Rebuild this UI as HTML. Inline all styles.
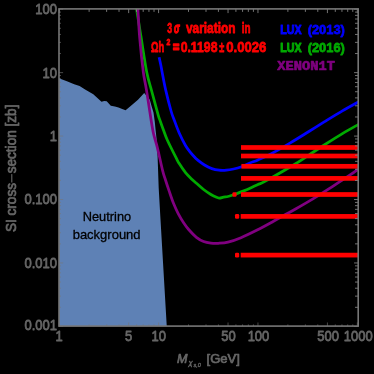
<!DOCTYPE html>
<html><head><meta charset="utf-8"><style>
html,body{margin:0;padding:0;background:#000;}
text{stroke-linejoin:round;}
.g text,text.g{stroke:#666;stroke-width:0.7px;}
svg{display:block;will-change:transform;font-family:"Liberation Sans",sans-serif;}
</style></head><body>
<svg width="374" height="374" viewBox="0 0 374 374">
<rect width="374" height="374" fill="#000"/>
<defs><clipPath id="cp"><rect x="59.00" y="8.90" width="299.20" height="317.20"/></clipPath></defs>
<g clip-path="url(#cp)">
<path d="M59.00,327.00L59.00,78.00L59.60,78.40L66.90,81.30L74.20,84.20L79.60,86.00L85.10,89.60L93.30,94.20L101.50,101.80L104.20,101.10L106.70,101.20L110.80,105.70L114.90,106.60L118.50,107.50L122.20,109.10L125.60,110.20L130.40,106.20L138.00,99.80L144.20,92.90L149.80,99.80L151.60,106.20L153.50,112.50L154.80,122.00L155.60,130.00L156.50,138.20L157.60,156.40L158.70,188.00L160.30,216.00L166.80,327.00Z" fill="#5e81b5"/>
<path d="M159.10,57.30C159.42,58.75 160.50,63.55 161.00,66.00C161.50,68.45 161.33,68.07 162.10,72.00C162.87,75.93 164.08,83.02 165.60,89.60C167.12,96.18 169.77,106.43 171.20,111.50C172.63,116.57 172.88,116.47 174.20,120.00C175.52,123.53 177.22,128.45 179.10,132.70C180.98,136.95 183.68,142.32 185.50,145.50C187.32,148.68 188.50,149.88 190.00,151.80C191.50,153.72 193.28,155.68 194.50,157.00C195.72,158.32 195.63,158.37 197.30,159.70C198.97,161.03 202.08,163.52 204.50,165.00C206.92,166.48 209.37,167.73 211.80,168.60C214.23,169.47 216.67,169.93 219.10,170.20C221.53,170.47 223.98,170.40 226.40,170.20C228.82,170.00 231.18,169.53 233.60,169.00C236.02,168.47 238.17,168.00 240.90,167.00C243.63,166.00 247.15,164.16 250.00,162.98C252.85,161.80 254.30,161.53 258.00,159.90C261.70,158.27 266.80,156.06 272.20,153.21C277.60,150.36 284.35,146.40 290.40,142.82C296.45,139.24 302.87,135.20 308.50,131.72C314.13,128.24 318.55,125.39 324.20,121.92C329.85,118.45 336.68,114.22 342.40,110.88C348.12,107.54 355.82,103.36 358.50,101.86" fill="none" stroke="#0000ff" stroke-width="2.75" stroke-linejoin="round"/>
<path d="M136.20,6.00C136.27,6.50 135.77,3.67 136.60,9.00C137.43,14.33 139.52,27.50 141.20,38.00C142.88,48.50 144.93,63.08 146.70,72.00C148.47,80.92 149.88,84.32 151.80,91.50C153.72,98.68 156.77,110.10 158.20,115.10C159.63,120.10 159.53,119.02 160.40,121.50C161.28,123.98 162.30,126.92 163.45,130.00C164.60,133.08 165.14,135.27 167.30,140.00C169.46,144.73 174.38,154.43 176.40,158.40C178.42,162.37 177.88,161.43 179.40,163.80C180.92,166.17 183.43,170.03 185.50,172.60C187.57,175.17 189.98,177.42 191.80,179.20C193.62,180.98 194.43,181.58 196.40,183.30C198.37,185.02 201.18,187.63 203.60,189.50C206.02,191.37 209.00,193.32 210.90,194.50C212.80,195.68 213.62,196.00 215.00,196.60C216.38,197.20 217.78,198.02 219.20,198.10C220.62,198.18 222.03,197.37 223.50,197.10C224.97,196.83 226.32,196.88 228.00,196.50C229.68,196.12 230.85,195.78 233.60,194.80C236.35,193.82 241.77,191.69 244.50,190.60C247.23,189.51 247.75,189.28 250.00,188.26C252.25,187.24 255.50,185.62 258.00,184.47C260.50,183.32 259.15,184.55 265.00,181.35C270.85,178.15 285.85,169.60 293.10,165.26C300.35,160.91 303.32,158.65 308.50,155.28C313.68,151.91 318.55,148.64 324.20,145.03C329.85,141.42 336.68,137.05 342.40,133.62C348.12,130.19 355.82,125.96 358.50,124.43" fill="none" stroke="#00aa00" stroke-width="2.75" stroke-linejoin="round"/>
<path d="M137.70,6.00C137.73,6.50 137.57,3.67 137.90,9.00C138.23,14.33 138.80,27.50 139.70,38.00C140.60,48.50 142.18,63.40 143.30,72.00C144.42,80.60 145.13,81.82 146.40,89.60C147.67,97.38 149.70,111.30 150.90,118.70C152.10,126.10 152.53,129.23 153.60,134.00C154.67,138.77 155.78,141.15 157.30,147.30C158.82,153.45 161.33,165.45 162.70,170.90C164.07,176.35 164.43,176.67 165.50,180.00C166.57,183.33 167.75,186.97 169.10,190.90C170.45,194.83 172.08,199.82 173.60,203.60C175.12,207.38 176.53,210.42 178.20,213.60C179.87,216.78 181.78,219.97 183.60,222.70C185.42,225.43 186.97,227.57 189.10,230.00C191.23,232.43 193.98,235.38 196.40,237.30C198.82,239.22 201.18,240.53 203.60,241.50C206.02,242.47 208.47,242.80 210.90,243.10C213.33,243.40 215.35,243.45 218.20,243.30C221.05,243.15 224.20,243.13 228.00,242.20C231.80,241.27 236.15,239.72 241.00,237.70C245.85,235.67 251.75,232.75 257.10,230.05C262.45,227.35 268.45,224.02 273.10,221.47C277.75,218.92 281.18,216.85 285.00,214.73C288.82,212.61 291.13,211.53 296.00,208.76C300.87,205.99 308.13,201.83 314.20,198.13C320.27,194.43 326.35,190.45 332.40,186.54C338.45,182.63 346.15,177.62 350.50,174.67C354.85,171.72 357.17,169.82 358.50,168.85" fill="none" stroke="#800080" stroke-width="2.75" stroke-linejoin="round"/>
<rect x="241.00" y="145.15" width="119.00" height="4.70" fill="#ff0000"/>
<rect x="241.00" y="153.65" width="119.00" height="4.70" fill="#ff0000"/>
<rect x="241.40" y="163.95" width="118.60" height="4.70" fill="#ff0000"/>
<rect x="241.00" y="176.05" width="119.00" height="4.70" fill="#ff0000"/>
<rect x="241.00" y="192.15" width="119.00" height="4.70" fill="#ff0000"/>
<rect x="232.40" y="192.15" width="4.2" height="4.70" rx="1.3" fill="#ff0000"/>
<rect x="240.70" y="214.05" width="119.30" height="4.70" fill="#ff0000"/>
<rect x="235.00" y="214.05" width="4.2" height="4.70" rx="1.3" fill="#ff0000"/>
<rect x="240.70" y="252.75" width="119.30" height="4.70" fill="#ff0000"/>
<rect x="235.00" y="252.75" width="4.2" height="4.70" rx="1.3" fill="#ff0000"/>
</g>
<path d="M59.20,8.90v4.20 M128.66,8.90v4.20 M158.58,8.90v4.20 M228.04,8.90v4.20 M257.96,8.90v4.20 M327.42,8.90v4.20 M357.34,8.90v4.20 M89.12,8.90v3.00 M106.62,8.90v3.00 M119.03,8.90v3.00 M136.53,8.90v3.00 M143.19,8.90v3.00 M148.95,8.90v3.00 M154.03,8.90v3.00 M188.50,8.90v3.00 M206.00,8.90v3.00 M218.41,8.90v3.00 M235.91,8.90v3.00 M242.57,8.90v3.00 M248.33,8.90v3.00 M253.41,8.90v3.00 M287.88,8.90v3.00 M305.38,8.90v3.00 M317.79,8.90v3.00 M335.29,8.90v3.00 M341.95,8.90v3.00 M347.71,8.90v3.00 M352.79,8.90v3.00 M358.20,326.40h-4.10 M358.20,262.96h-4.10 M358.20,199.52h-4.10 M358.20,136.08h-4.10 M358.20,72.64h-4.10 M358.20,9.20h-4.10 M358.20,307.30h-3.20 M358.20,296.13h-3.20 M358.20,288.21h-3.20 M358.20,282.06h-3.20 M358.20,277.03h-3.20 M358.20,272.79h-3.20 M358.20,269.11h-3.20 M358.20,265.86h-3.20 M358.20,243.86h-3.20 M358.20,232.69h-3.20 M358.20,224.77h-3.20 M358.20,218.62h-3.20 M358.20,213.59h-3.20 M358.20,209.35h-3.20 M358.20,205.67h-3.20 M358.20,202.42h-3.20 M358.20,180.42h-3.20 M358.20,169.25h-3.20 M358.20,161.33h-3.20 M358.20,155.18h-3.20 M358.20,150.15h-3.20 M358.20,145.91h-3.20 M358.20,142.23h-3.20 M358.20,138.98h-3.20 M358.20,116.98h-3.20 M358.20,105.81h-3.20 M358.20,97.89h-3.20 M358.20,91.74h-3.20 M358.20,86.71h-3.20 M358.20,82.47h-3.20 M358.20,78.79h-3.20 M358.20,75.54h-3.20 M358.20,53.54h-3.20 M358.20,42.37h-3.20 M358.20,34.45h-3.20 M358.20,28.30h-3.20 M358.20,23.27h-3.20 M358.20,19.03h-3.20 M358.20,15.35h-3.20 M358.20,12.10h-3.20" stroke="#808080" stroke-width="0.9" fill="none"/>
<path d="M59.20,326.10v-3.60 M128.66,326.10v-3.60 M158.58,326.10v-3.60 M228.04,326.10v-3.60 M257.96,326.10v-3.60 M327.42,326.10v-3.60 M357.34,326.10v-3.60 M89.12,326.10v-1.70 M106.62,326.10v-1.70 M119.03,326.10v-1.70 M136.53,326.10v-1.70 M143.19,326.10v-1.70 M148.95,326.10v-1.70 M154.03,326.10v-1.70 M188.50,326.10v-1.70 M206.00,326.10v-1.70 M218.41,326.10v-1.70 M235.91,326.10v-1.70 M242.57,326.10v-1.70 M248.33,326.10v-1.70 M253.41,326.10v-1.70 M287.88,326.10v-1.70 M305.38,326.10v-1.70 M317.79,326.10v-1.70 M335.29,326.10v-1.70 M341.95,326.10v-1.70 M347.71,326.10v-1.70 M352.79,326.10v-1.70 M59.00,326.40h4.10 M59.00,262.96h4.10 M59.00,199.52h4.10 M59.00,136.08h4.10 M59.00,72.64h4.10 M59.00,9.20h4.10 M59.00,307.30h2.00 M59.00,296.13h2.00 M59.00,288.21h2.00 M59.00,282.06h2.00 M59.00,277.03h2.00 M59.00,272.79h2.00 M59.00,269.11h2.00 M59.00,265.86h2.00 M59.00,243.86h2.00 M59.00,232.69h2.00 M59.00,224.77h2.00 M59.00,218.62h2.00 M59.00,213.59h2.00 M59.00,209.35h2.00 M59.00,205.67h2.00 M59.00,202.42h2.00 M59.00,180.42h2.00 M59.00,169.25h2.00 M59.00,161.33h2.00 M59.00,155.18h2.00 M59.00,150.15h2.00 M59.00,145.91h2.00 M59.00,142.23h2.00 M59.00,138.98h2.00 M59.00,116.98h2.00 M59.00,105.81h2.00 M59.00,97.89h2.00 M59.00,91.74h2.00 M59.00,86.71h2.00 M59.00,82.47h2.00 M59.00,78.79h2.00 M59.00,75.54h2.00 M59.00,53.54h2.00 M59.00,42.37h2.00 M59.00,34.45h2.00 M59.00,28.30h2.00 M59.00,23.27h2.00 M59.00,19.03h2.00 M59.00,15.35h2.00 M59.00,12.10h2.00" stroke="#777" stroke-width="0.6" fill="none"/>
<rect x="59.00" y="8.90" width="299.20" height="317.20" fill="none" stroke="#777" stroke-width="1.6"/>
<text transform="translate(59.00,341.3) scale(1,1.13)" text-anchor="middle" class="g" fill="#666" font-size="13">1</text>
<text transform="translate(128.71,341.3) scale(1,1.13)" text-anchor="middle" class="g" fill="#666" font-size="13">5</text>
<text transform="translate(158.73,341.3) scale(1,1.13)" text-anchor="middle" class="g" fill="#666" font-size="13">10</text>
<text transform="translate(228.44,341.3) scale(1,1.13)" text-anchor="middle" class="g" fill="#666" font-size="13">50</text>
<text transform="translate(258.47,341.3) scale(1,1.13)" text-anchor="middle" class="g" fill="#666" font-size="13">100</text>
<text transform="translate(328.18,341.3) scale(1,1.13)" text-anchor="middle" class="g" fill="#666" font-size="13">500</text>
<text transform="translate(358.20,341.3) scale(1,1.13)" text-anchor="middle" class="g" fill="#666" font-size="13">1000</text>
<text transform="translate(57,14.20) scale(1,1.17)" text-anchor="end" class="g" fill="#666" font-size="13">100</text>
<text transform="translate(57,77.50) scale(1,1.17)" text-anchor="end" class="g" fill="#666" font-size="13">10</text>
<text transform="translate(57,140.60) scale(1,1.17)" text-anchor="end" class="g" fill="#666" font-size="13">1</text>
<text transform="translate(57,204.30) scale(1,1.17)" text-anchor="end" class="g" fill="#666" font-size="13">0.100</text>
<text transform="translate(57,267.50) scale(1,1.17)" text-anchor="end" class="g" fill="#666" font-size="13">0.010</text>
<text transform="translate(57,330.40) scale(1,1.17)" text-anchor="end" class="g" fill="#666" font-size="13">0.001</text>
<g class="g" transform="translate(16.3,0.5) rotate(-90) scale(1,1.1)" fill="#666" font-size="13.6"><text x="-231.6" y="0">SI cross</text><rect x="-182.0" y="-4.6" width="8.4" height="1" /><text x="-172.8" y="0">section [zb]</text></g>
<g class="g" fill="#666"><text x="177" y="363.2" font-size="12.6" font-style="italic">M</text><text x="188.6" y="364.9" font-size="7.6" font-style="italic" style="stroke-width:0.4px">χ</text><text x="193.4" y="367.4" font-size="5.6" font-style="italic" style="stroke-width:0.3px">s,0</text><text x="206.6" y="363.2" font-size="13">[GeV]</text></g>
<text transform="translate(167.25,32.50) scale(0.7059,1.1300)" fill="#ff0000" font-size="12.5" font-weight="bold" stroke="#ff0000" stroke-width="0.7">3</text>
<text transform="translate(174.11,32.50) scale(0.6768,1.1300)" fill="#ff0000" font-size="12.5" font-weight="bold" font-style="italic" stroke="#ff0000" stroke-width="1.2">σ</text>
<text transform="translate(185.93,32.50) scale(0.9508,1.1300)" fill="#ff0000" font-size="12.5" font-weight="bold" stroke="#ff0000" stroke-width="0.7">variation</text>
<text transform="translate(241.68,32.50) scale(0.7873,1.1300)" fill="#ff0000" font-size="12.5" font-weight="bold" stroke="#ff0000" stroke-width="0.7">in</text>
<text transform="translate(150.96,51.60) scale(0.7461,1.1300)" fill="#ff0000" font-size="12.5" font-weight="bold" stroke="#ff0000" stroke-width="0.7">Ωh</text>
<text transform="translate(166.62,44.80) scale(0.9136,1.1300)" fill="#ff0000" font-size="7.6" font-weight="bold" stroke="#ff0000" stroke-width="0.7">2</text>
<text transform="translate(173.05,51.60) scale(0.8636,1.1300)" fill="#ff0000" font-size="12.5" font-weight="bold" stroke="#ff0000" stroke-width="1.5">=</text>
<text transform="translate(180.64,51.60) scale(0.9807,1.1300)" fill="#ff0000" font-size="12.5" font-weight="bold" stroke="#ff0000" stroke-width="0.7">0.1198</text>
<text transform="translate(219.35,51.60) scale(0.7273,1.1300)" fill="#ff0000" font-size="12.5" font-weight="bold" stroke="#ff0000" stroke-width="0.7">±</text>
<text transform="translate(226.27,51.60) scale(1.0504,1.1300)" fill="#ff0000" font-size="12.5" font-weight="bold" stroke="#ff0000" stroke-width="0.7">0.0026</text>
<text transform="translate(280.33,34.30) scale(0.8500,1.0800)" fill="#0000ff" font-size="12.5" font-weight="bold" stroke="#0000ff" stroke-width="1">LUX</text>
<text transform="translate(307.66,34.30) scale(1.0288,1.0800)" fill="#0000ff" font-size="12.5" font-weight="bold" stroke="#0000ff" stroke-width="0.7">(2013)</text>
<text transform="translate(280.33,52.40) scale(0.8500,1.0800)" fill="#00aa00" font-size="12.5" font-weight="bold" stroke="#00aa00" stroke-width="1">LUX</text>
<text transform="translate(307.66,52.40) scale(1.0288,1.0800)" fill="#00aa00" font-size="12.5" font-weight="bold" stroke="#00aa00" stroke-width="0.7">(2016)</text>
<text transform="translate(277.36,70.20) scale(1.0229,1.0000)" fill="#800080" font-size="13.4" font-weight="bold" font-family="Liberation Mono, monospace" stroke="#800080" stroke-width="0.7">XENON1T</text>
<text transform="translate(82.75,221.00) scale(0.9850,1.0400)" fill="#000" font-size="13" stroke="#000" stroke-width="0.3">Neutrino</text>
<text transform="translate(72.65,239.20) scale(1.0009,1.0400)" fill="#000" font-size="13" stroke="#000" stroke-width="0.3">background</text>
</svg>
</body></html>
